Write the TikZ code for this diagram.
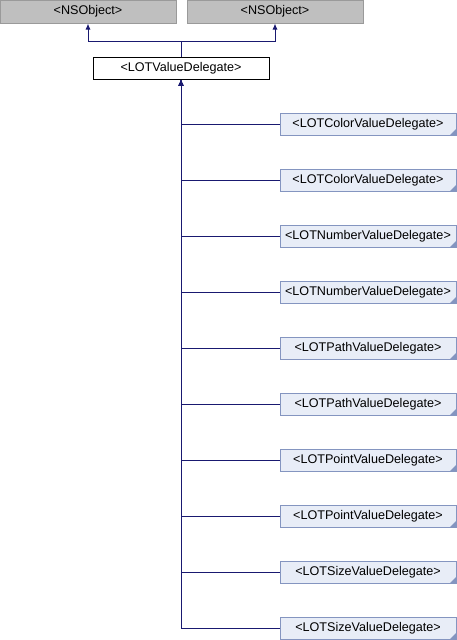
\documentclass[tikz,border=0pt]{standalone}
\usepackage{fontspec}
\setmainfont{Liberation Sans}
\usetikzlibrary{arrows.meta}
\definecolor{edgeblue}{HTML}{191970}
\definecolor{basefill}{HTML}{BFBFBF}
\definecolor{baseline}{HTML}{9A9A9A}
\definecolor{childfill}{HTML}{E8EDF7}
\definecolor{childline}{HTML}{8495C0}
\begin{document}
\begin{tikzpicture}[x=1pt, y=-1pt, every node/.style={font=\fontsize{12.6}{14}\selectfont},
  basebox/.style={draw=baseline, fill=basefill, line width=1pt, minimum width=176pt, minimum height=23pt, inner sep=0pt},
  rootbox/.style={draw=black, fill=white, line width=1pt, minimum width=176pt, minimum height=22pt, inner sep=0pt},
  childbox/.style={draw=childline, fill=childfill, line width=1pt, minimum width=176pt, minimum height=22pt, inner sep=0pt,
    path picture={\fill[childline] (path picture bounding box.south east) -- ++(-6pt,0) -- ++(6pt,6pt) -- cycle;}},
  edge/.style={draw=edgeblue, line width=1pt, -{Latex[length=6pt,width=5pt]}}]
\useasboundingbox (0,0) rectangle (457,640);
% base classes
\node[basebox] (ns1) at (88,11.5) {<NSObject>};
\node[basebox] (ns2) at (275,11.5) {<NSObject>};
\node[rootbox] (lot) at (181,68) {<LOTValueDelegate>};
\coordinate (split) at (181,41);
\draw[edge] (lot.north) -- (split) -| (ns1.south);
\draw[edge] (lot.north) -- (split) -| (ns2.south);
% derived classes
\node[childbox] (color1) at (368,124) {<LOTColorValueDelegate>};
\node[childbox] (color2) at (368,180) {<LOTColorValueDelegate>};
\node[childbox] (number1) at (368,236) {<LOTNumberValueDelegate>};
\node[childbox] (number2) at (368,292) {<LOTNumberValueDelegate>};
\node[childbox] (path1) at (368,348) {<LOTPathValueDelegate>};
\node[childbox] (path2) at (368,404) {<LOTPathValueDelegate>};
\node[childbox] (point1) at (368,460) {<LOTPointValueDelegate>};
\node[childbox] (point2) at (368,516) {<LOTPointValueDelegate>};
\node[childbox] (size1) at (368,572) {<LOTSizeValueDelegate>};
\node[childbox] (size2) at (368,628) {<LOTSizeValueDelegate>};
\draw[edge] (color1.west) -| (lot.south);
\draw[edge] (color2.west) -| (lot.south);
\draw[edge] (number1.west) -| (lot.south);
\draw[edge] (number2.west) -| (lot.south);
\draw[edge] (path1.west) -| (lot.south);
\draw[edge] (path2.west) -| (lot.south);
\draw[edge] (point1.west) -| (lot.south);
\draw[edge] (point2.west) -| (lot.south);
\draw[edge] (size1.west) -| (lot.south);
\draw[edge] (size2.west) -| (lot.south);
\end{tikzpicture}
\end{document}
